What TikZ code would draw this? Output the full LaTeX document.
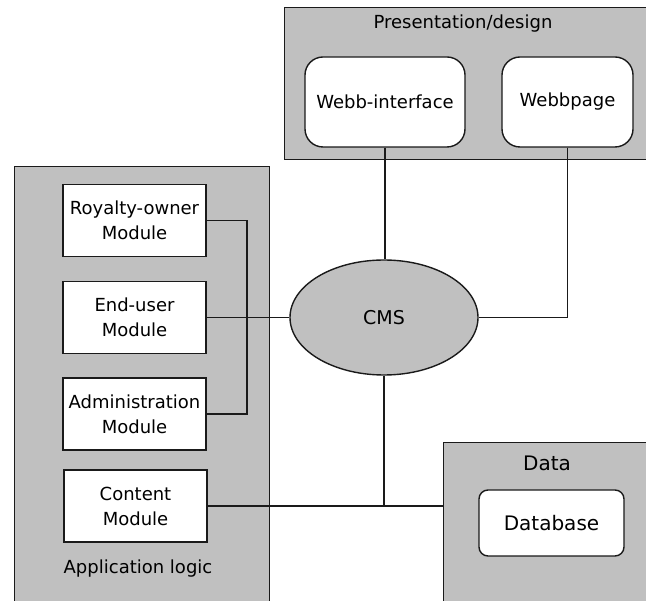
\documentclass[tikz,border=0pt]{standalone}
\usepackage{fontspec}
\setmainfont{DejaVu Sans}
\usetikzlibrary{shapes.geometric}
\definecolor{panelgray}{HTML}{C0C0C0}
\definecolor{edgegray}{HTML}{1A1A1A}
\tikzset{
  panel/.style={draw=edgegray, fill=panelgray, line width=1.4pt, anchor=north west, inner sep=0pt},
  module/.style={draw=edgegray, fill=white, line width=1.4pt, align=center,
    minimum width=143, minimum height=72, inner sep=0pt,
    font=\fontsize{18}{25}\selectfont},
  roundbox/.style={module, rounded corners=18, minimum height=90},
  label/.style={font=\fontsize{18}{22}\selectfont, inner sep=0pt},
  wire/.style={draw=edgegray, line width=1.4pt}
}

\begin{document}
\begin{tikzpicture}[x=1pt, y=-1pt]
            \useasboundingbox (0,0) rectangle (646,601);
            \clip (0,0) rectangle (646,601);

            % Presentation/design
            \node[panel, minimum width=364, minimum height=152] (pres) at (284,7) {};
            \node[label] (prestitle) at (463,24) {Presentation/design};
            \node[roundbox, minimum width=160] (webint) at (385,102) {Webb-interface};
            \node[roundbox, minimum width=131] (webpage) at (567.5,102) {Webbpage};

            % Application logic
            \node[panel, minimum width=255, minimum height=445] (app) at (14,166) {};
            \node[module] (royalty) at (134.5,220.5) {Royalty-owner\\Module};
            \node[module] (enduser) at (134.5,317.5) {End-user\\Module};
            \node[module] (admin) at (134.5,414) {Administration\\Module};
            \node[module] (content) at (135.5,506) {Content\\Module};
            \node[label] (applabel) at (138,569) {Application logic};

            % CMS
            \node[ellipse, draw=edgegray, fill=panelgray, line width=1.4pt,
                  minimum width=188, minimum height=115, inner sep=0pt,
                  font=\fontsize{19}{22}\selectfont] (cms) at (384,317.5) {CMS};

            % Data
            \node[panel, minimum width=205, minimum height=170] (data) at (443,442) {};
            \node[label, font=\fontsize{20}{24}\selectfont] (datatitle) at (547,463) {Data};
            \node[module, rounded corners=9, minimum width=145, minimum height=66,
                  font=\fontsize{20}{24}\selectfont] (database) at (551.5,523) {Database};

            % Connections
            \coordinate (bus) at (247,317.5);
            \coordinate (join) at (cms.south |- content.east);
            \draw[wire] (royalty.east) -| (bus) |- (admin.east);
            \draw[wire] (enduser.east) -- (cms.west);
            \draw[wire] (webint.south) -- (webint.south |- cms.north);
            \draw[wire] (webpage.south) |- (cms.east);
            \draw[wire] (cms.south) -- (join);
            \draw[wire] (content.east) -- (content.east -| data.west);

\end{tikzpicture}
\end{document}
